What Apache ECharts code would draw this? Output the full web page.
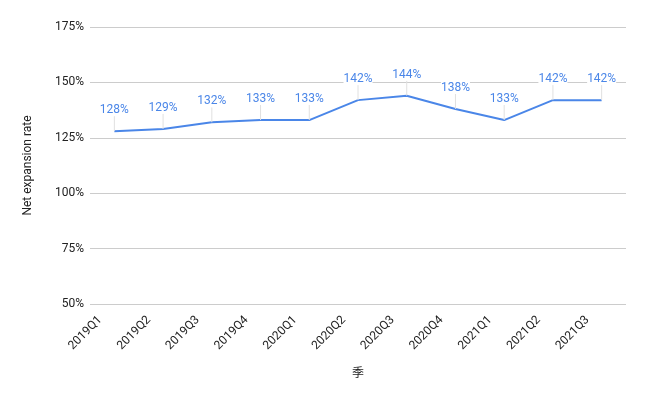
<!DOCTYPE html>
<html>
<head>
<meta charset="utf-8">
<script src="https://cdn.jsdelivr.net/npm/echarts@6/dist/echarts.min.js"></script>
<style>
  html, body { margin: 0; padding: 0; background: #fff; }
  #main { width: 646px; height: 399px; }
</style>
</head>
<body>
<div id="main"></div>
<script type="text/javascript">
    // 季度
    var quarters = ['2019Q1', '2019Q2', '2019Q3', '2019Q4', '2020Q1', '2020Q2', '2020Q3', '2020Q4', '2021Q1', '2021Q2', '2021Q3'];
    // Net expansion rate (%)
    var rates = [128, 129, 132, 133, 133, 142, 144, 138, 133, 142, 142];
    var yTicks = [50, 75, 100, 125, 150, 175];

    var chart = echarts.init(document.getElementById('main'));
    var option = {
        animation: false,
        grid: { left: 90, right: 20, top: 27, bottom: 95 },
        xAxis: {
            type: 'category',
            data: quarters,
            name: '季',
            nameLocation: 'middle',
            nameGap: 62,
            nameTextStyle: { color: '#222', fontSize: 12, fontFamily: 'Noto Sans CJK SC' },
            axisLine: { show: false },
            axisTick: { show: false },
            axisLabel: { rotate: 45, color: '#222', fontSize: 12, fontFamily: 'Roboto', margin: 0, padding: [0, 20, 0, 0] }
        },
        yAxis: {
            type: 'value',
            min: yTicks[0],
            max: yTicks[yTicks.length - 1],
            interval: 25,
            name: 'Net expansion rate',
            nameLocation: 'middle',
            nameGap: 56,
            nameTextStyle: { color: '#222', fontSize: 12, fontFamily: 'Roboto' },
            axisLabel: { color: '#222', fontSize: 12, fontFamily: 'Roboto', formatter: '{value}%', margin: 6 },
            splitLine: { lineStyle: { color: '#ccc' } }
        },
        series: [{
            type: 'line',
            data: rates,
            symbol: 'circle',
            symbolSize: 0.1,
            showSymbol: true,
            lineStyle: { color: '#4a86e8', width: 2 },
            itemStyle: { color: '#4a86e8' },
            label: {
                show: true,
                position: 'top',
                distance: 4,
                color: '#4a86e8',
                fontSize: 12,
                fontFamily: 'Roboto',
                backgroundColor: '#fff',
                formatter: '{c}%'
            },
            labelLayout: { dy: -11 },
            labelLine: { show: true, lineStyle: { color: '#e0e0e0', width: 1 } }
        }]
    };
    chart.setOption(option);
</script>
</body>
</html>
